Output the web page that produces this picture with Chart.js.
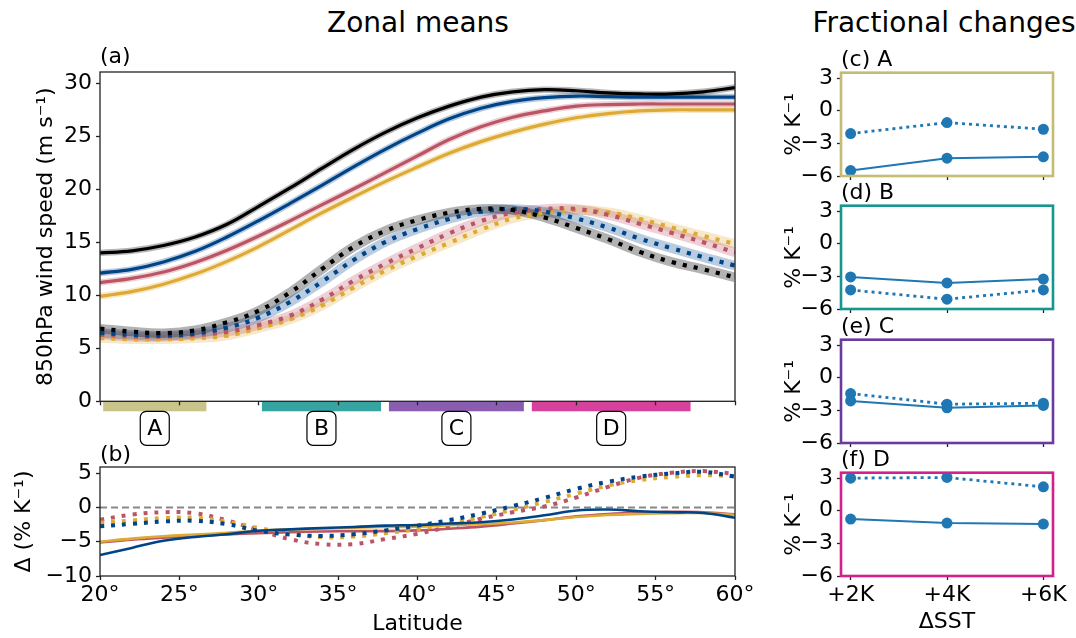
<!DOCTYPE html>
<html>
<head>
<meta charset="utf-8">
<script src="https://cdn.jsdelivr.net/npm/chart.js"></script>
<style>
  body { margin: 0; background: #fff; }
  #fig { position: relative; width: 1076px; height: 638px; overflow: hidden; font-family: "DejaVu Sans", sans-serif; color: #000; }
  #fig canvas { position: absolute; }
  .heading { position: absolute; top: 22px; font-size: 28px; transform: translate(-50%, -50%); white-space: nowrap; }
</style>
</head>
<body>
<div id="fig">
  <div class="heading" style="left:418px">Zonal means</div>
  <div class="heading" style="left:944px">Fractional changes</div>
  <canvas id="zonal"></canvas>
  <canvas id="delta"></canvas>
  <canvas id="fracA"></canvas>
  <canvas id="fracB"></canvas>
  <canvas id="fracC"></canvas>
  <canvas id="fracD"></canvas>
</div>
<script>
// latitude grid shared by panels (a) and (b)
const lat = [20, 22, 24, 26, 28, 30, 32, 34, 36, 38, 40, 42, 44, 46, 48, 50, 52, 54, 56, 58, 60];
const latTicks = [20, 25, 30, 35, 40, 45, 50, 55, 60];

// (a) 850hPa wind speed, m/s - solid curves
const speedCtl = [14.0, 14.2, 14.7, 15.5, 16.7, 18.4, 20.15, 22.0, 23.8, 25.4, 26.75, 27.85, 28.7, 29.2, 29.4, 29.3, 29.1, 29.0, 29.0, 29.2, 29.6];
const speed2K = [12.1, 12.45, 13.15, 14.15, 15.5, 17.05, 18.7, 20.4, 22.15, 23.8, 25.3, 26.65, 27.65, 28.3, 28.65, 28.8, 28.75, 28.7, 28.7, 28.7, 28.7];
const speed4K = [11.2, 11.6, 12.2, 13.1, 14.25, 15.6, 17.05, 18.55, 20.05, 21.6, 23.15, 24.7, 25.9, 26.8, 27.4, 27.85, 28.0, 28.05, 28.05, 28.05, 28.05];
const speed6K = [9.9, 10.35, 11.05, 12.0, 13.2, 14.6, 16.2, 17.8, 19.3, 20.75, 22.1, 23.4, 24.5, 25.4, 26.15, 26.75, 27.15, 27.4, 27.5, 27.5, 27.5];
// (a) dotted curves
const dotCtl = [6.85, 6.58, 6.43, 6.7, 7.45, 8.55, 10.3, 12.5, 14.6, 16.1, 17.1, 17.8, 18.15, 18.05, 17.35, 16.35, 15.3, 14.1, 13.15, 12.45, 11.7];
const dot2K = [6.45, 6.27, 6.2, 6.4, 6.95, 7.9, 9.4, 11.3, 13.35, 15.05, 16.25, 17.2, 17.9, 18.15, 17.9, 17.25, 16.4, 15.35, 14.45, 13.6, 12.8];
const dot4K = [6.3, 6.1, 6.1, 6.25, 6.55, 7.2, 8.1, 9.6, 11.4, 13.0, 14.45, 15.85, 17.0, 17.8, 18.15, 18.15, 17.6, 16.75, 15.9, 15.0, 14.05];
const dot6K = [5.97, 5.86, 5.86, 5.95, 6.2, 6.9, 7.75, 9.05, 10.75, 12.35, 13.7, 14.95, 16.2, 17.25, 17.8, 18.05, 17.85, 17.2, 16.4, 15.6, 14.85];

// (b) change per K of warming, %/K
const deltaSolid2K = [-6.95, -5.9, -4.85, -4.3, -3.9, -3.4, -3.2, -3.0, -2.85, -2.65, -2.55, -2.35, -2.15, -1.75, -1.15, -0.45, -0.3, -0.55, -0.7, -0.8, -1.5];
const deltaSolid4K = [-5.1, -4.7, -4.4, -4.15, -3.95, -3.75, -3.6, -3.5, -3.45, -3.45, -3.35, -3.1, -2.8, -2.35, -1.85, -1.3, -0.95, -0.75, -0.65, -0.7, -1.0];
const deltaSolid6K = [-5.0, -4.55, -4.2, -3.95, -3.7, -3.4, -3.2, -3.1, -2.95, -2.85, -2.8, -2.6, -2.45, -2.2, -1.85, -1.4, -1.1, -0.95, -0.85, -0.8, -1.1];
const deltaDot2K = [-2.75, -2.4, -2.05, -1.95, -2.45, -3.4, -3.95, -4.15, -3.9, -3.35, -2.65, -1.85, -0.9, 0.2, 1.4, 2.7, 3.75, 4.5, 4.95, 5.2, 4.5];
const deltaDot4K = [-1.8, -1.05, -0.7, -0.85, -1.9, -3.3, -4.65, -5.35, -5.35, -4.6, -3.85, -2.8, -1.65, -0.7, 0.15, 1.45, 3.0, 4.35, 5.05, 5.3, 4.9];
const deltaDot6K = [-2.25, -1.9, -1.55, -1.5, -2.1, -3.0, -3.85, -4.35, -4.25, -3.75, -3.15, -2.35, -1.4, -0.35, 0.8, 2.0, 3.2, 4.0, 4.45, 4.7, 4.55];
const zeroLine = [0, 0];

// averaging regions marked under panel (a)
const regionNames = ['A', 'B', 'C', 'D'];
const regionFrom = [20.2, 30.2, 38.2, 47.2];
const regionTo = [26.7, 37.7, 46.7, 57.2];

// (c)-(f) regional fractional changes, %/K
const sstSteps = [2, 4, 6];
const sstLabels = ['+2K', '+4K', '+6K'];
const fracTicks = [-6, -3, 0, 3];
const fracSolidA = [-5.5, -4.36, -4.24];
const fracDotA = [-2.1, -1.09, -1.7];
const fracSolidB = [-3.05, -3.6, -3.25];
const fracDotB = [-4.25, -5.1, -4.25];
const fracSolidC = [-2.13, -2.76, -2.55];
const fracDotC = [-1.45, -2.43, -2.34];
const fracSolidD = [-0.76, -1.13, -1.22];
const fracDotD = [3.0, 3.06, 2.2];

const regionFill = ['#c9c48a', '#36a5a2', '#8b5db1', '#d6429b'];
const regionEdge = ['#c4bc72', '#17958f', '#6a3a9d', '#d3208c'];

Chart.defaults.font.family = '"DejaVu Sans"';
Chart.defaults.font.size = 22;
Chart.defaults.color = '#000';
Chart.defaults.animation = false;

const minus = v => String(v).replace('-', '\u2212');
const fixedTicks = values => scale => { scale.ticks = values.map(value => ({ value })); };
const tickGrid = { drawOnChartArea: false, tickLength: 4, tickWidth: 1.3, tickColor: '#222' };

// axes box drawn over the data
const framePlugin = {
  id: 'frame',
  afterDraw(chart, args, opts) {
    const { ctx, chartArea: a } = chart;
    ctx.save();
    ctx.strokeStyle = opts.color || '#222';
    ctx.lineWidth = opts.width || 1.3;
    ctx.strokeRect(a.left, a.top, a.right - a.left, a.bottom - a.top);
    ctx.restore();
  }
};

// panel letter above the top-left corner
const tagPlugin = {
  id: 'tag',
  afterDraw(chart, args, opts) {
    const { ctx, chartArea: a } = chart;
    ctx.save();
    ctx.font = '22px "DejaVu Sans"';
    ctx.fillStyle = '#000';
    ctx.textBaseline = 'middle';
    ctx.fillText(opts.text, a.left, a.top - opts.gap);
    ctx.restore();
  }
};

// coloured latitude bands with boxed letters below panel (a)
const regionPlugin = {
  id: 'regions',
  beforeDraw(chart) {
    const { ctx, chartArea: a, scales: { x } } = chart;
    ctx.save();
    regionNames.forEach((name, i) => {
      const x0 = x.getPixelForValue(regionFrom[i]);
      const x1 = x.getPixelForValue(regionTo[i]);
      ctx.fillStyle = regionFill[i];
      ctx.fillRect(x0, a.bottom + 0.5, x1 - x0, 9.5);
    });
    regionNames.forEach((name, i) => {
      const cx = (x.getPixelForValue(regionFrom[i]) + x.getPixelForValue(regionTo[i])) / 2;
      const top = a.bottom + 10;
      ctx.beginPath();
      ctx.roundRect(cx - 14.5, top, 29, 34, 6);
      ctx.fillStyle = '#fff';
      ctx.fill();
      ctx.lineWidth = 1.2;
      ctx.strokeStyle = '#000';
      ctx.stroke();
      ctx.fillStyle = '#000';
      ctx.font = '22px "DejaVu Sans"';
      ctx.textAlign = 'center';
      ctx.textBaseline = 'middle';
      ctx.fillText(name, cx, top + 17.5);
    });
    ctx.restore();
  }
};

function place(id, left, top, width, height) {
  const c = document.getElementById(id);
  c.width = width;
  c.height = height;
  c.style.left = left + 'px';
  c.style.top = top + 'px';
  return c;
}

const points = (xs, ys) => xs.map((x, i) => ({ x, y: ys[i] }));

// ---- panel (a)
const zonalSets = [];
function addZonal(values, color, halo, dotted, order) {
  zonalSets.push({
    data: points(lat, values), borderColor: halo, borderWidth: dotted ? 9.5 : 6.5,
    pointRadius: 0, tension: 0.4, order: 50
  });
  zonalSets.push({
    data: points(lat, values), borderColor: color, borderWidth: dotted ? 4.2 : 3.2,
    borderDash: dotted ? [4.2, 7.1] : [], borderCapStyle: 'butt',
    pointRadius: 0, tension: 0.4, order
  });
}
addZonal(speedCtl, '#000000', 'rgba(0,0,0,0.28)', false, 1);
addZonal(speed2K, '#004488', 'rgba(0,68,136,0.28)', false, 2);
addZonal(speed4K, '#BB5566', 'rgba(187,85,102,0.28)', false, 3);
addZonal(speed6K, '#DDAA33', 'rgba(221,170,51,0.28)', false, 4);
addZonal(dotCtl, '#000000', 'rgba(0,0,0,0.3)', true, 1);
addZonal(dot2K, '#004488', 'rgba(0,68,136,0.27)', true, 2);
addZonal(dot4K, '#BB5566', 'rgba(187,85,102,0.27)', true, 3);
addZonal(dot6K, '#DDAA33', 'rgba(221,170,51,0.27)', true, 4);

new Chart(place('zonal', 0, 40, 760, 410), {
  type: 'line',
  data: { datasets: zonalSets },
  plugins: [regionPlugin, framePlugin, tagPlugin],
  options: {
    responsive: false,
    layout: { padding: { top: 32, right: 25, left: 0, bottom: 0 } },
    plugins: { legend: { display: false }, tooltip: { enabled: false }, tag: { text: '(a)', gap: 15 } },
    scales: {
      x: {
        type: 'linear', min: 20, max: 60,
        afterBuildTicks: fixedTicks(latTicks),
        ticks: { display: false },
        grid: tickGrid, border: { display: false },
        afterFit: s => { s.height = 48.7; }
      },
      y: {
        min: 0, max: 31.07,
        afterBuildTicks: fixedTicks([0, 5, 10, 15, 20, 25, 30]),
        ticks: { padding: 4 },
        grid: tickGrid, border: { display: false },
        title: { display: true, text: '850hPa wind speed (m s\u207B\u00B9)', padding: { top: 33, bottom: 0 } },
        afterFit: s => { s.width = 100; }
      }
    }
  }
});

// ---- panel (b)
const deltaSets = [
  { data: points([20, 60], zeroLine), borderColor: '#888', borderWidth: 2, borderDash: [7, 4], order: 9 }
];
function addDelta(values, color, dotted, order) {
  deltaSets.push({
    data: points(lat, values), borderColor: color, borderWidth: dotted ? 4 : 2.6,
    borderDash: dotted ? [4, 7] : [], borderCapStyle: 'butt',
    tension: 0.4, order
  });
}
addDelta(deltaSolid2K, '#004488', false, 1);
addDelta(deltaSolid4K, '#BB5566', false, 3);
addDelta(deltaSolid6K, '#DDAA33', false, 2);
addDelta(deltaDot2K, '#004488', true, 1);
addDelta(deltaDot4K, '#BB5566', true, 3);
addDelta(deltaDot6K, '#DDAA33', true, 2);

new Chart(place('delta', 0, 440, 760, 198), {
  type: 'line',
  data: { datasets: deltaSets },
  plugins: [framePlugin, tagPlugin],
  options: {
    responsive: false,
    elements: { point: { radius: 0 } },
    layout: { padding: { top: 27, right: 25, left: 0, bottom: 0 } },
    plugins: { legend: { display: false }, tooltip: { enabled: false }, tag: { text: '(b)', gap: 12 } },
    scales: {
      x: {
        type: 'linear', min: 20, max: 60,
        afterBuildTicks: fixedTicks(latTicks),
        ticks: { padding: 2, callback: v => v + '\u00B0' },
        grid: tickGrid, border: { display: false },
        title: { display: true, text: 'Latitude', padding: { top: 0, bottom: 1 } },
        afterFit: s => { s.height = 62; }
      },
      y: {
        min: -10, max: 5.9,
        afterBuildTicks: fixedTicks([-10, -5, 0, 5]),
        ticks: { padding: 4, callback: minus },
        grid: tickGrid, border: { display: false },
        title: { display: true, text: '\u0394 (% K\u207B\u00B9)', padding: { top: 11, bottom: 0 } },
        afterFit: s => { s.width = 100; }
      }
    }
  }
});

// ---- panels (c)-(f)
function fracPanel(id, top, height, tag, solid, dotted, edge, last) {
  const blue = '#1f77b4';
  const base = { borderColor: blue, backgroundColor: blue, pointBackgroundColor: blue, pointBorderWidth: 0, pointRadius: 5.5, tension: 0 };
  new Chart(place(id, 770, top, 306, height), {
    type: 'line',
    data: {
      datasets: [
        { ...base, data: points(sstSteps, solid), borderWidth: 2 },
        { ...base, data: points(sstSteps, dotted), borderWidth: 2.8, borderDash: [3, 4], borderCapStyle: 'butt' }
      ]
    },
    plugins: [framePlugin, tagPlugin],
    options: {
      responsive: false,
      layout: { padding: { top: 32.7, right: 23, left: 0, bottom: 0 } },
      plugins: {
        legend: { display: false }, tooltip: { enabled: false },
        tag: { text: tag, gap: 12 }, frame: { color: edge, width: 2.6 }
      },
      scales: {
        x: {
          type: 'linear', min: 1.8, max: 6.2,
          afterBuildTicks: fixedTicks(sstSteps),
          ticks: { display: last, padding: 2, callback: v => sstLabels[sstSteps.indexOf(v)] },
          grid: tickGrid, border: { display: false },
          title: { display: last, text: '\u0394SST', padding: { top: 0, bottom: 2.7 } },
          afterFit: s => { s.height = height - 32.7 - 103.3; }
        },
        y: {
          min: -6, max: 3.5,
          afterBuildTicks: fixedTicks(fracTicks),
          ticks: { padding: 4, callback: minus },
          grid: tickGrid, border: { display: false },
          title: { display: true, text: '% K\u207B\u00B9', padding: { top: 11.1, bottom: 0 } },
          afterFit: s => { s.width = 71; }
        }
      }
    }
  });
}
fracPanel('fracA', 40, 156, '(c) A', fracSolidA, fracDotA, regionEdge[0], false);
fracPanel('fracB', 173, 156, '(d) B', fracSolidB, fracDotB, regionEdge[1], false);
fracPanel('fracC', 307, 156, '(e) C', fracSolidC, fracDotC, regionEdge[2], false);
fracPanel('fracD', 440, 198, '(f) D', fracSolidD, fracDotD, regionEdge[3], true);
</script>
</body>
</html>
